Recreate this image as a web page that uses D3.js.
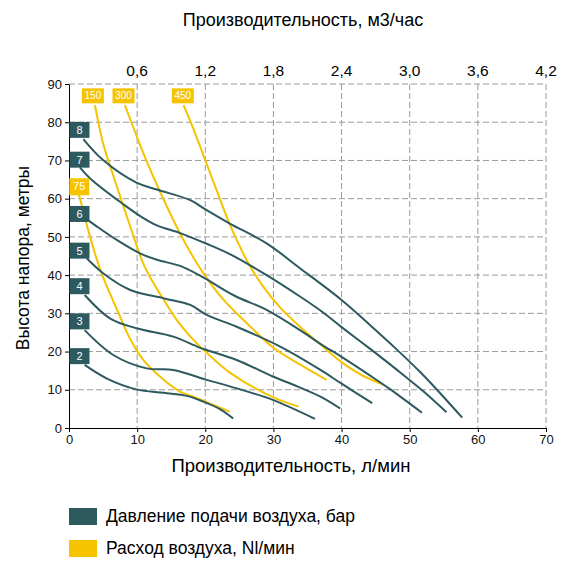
<!DOCTYPE html>
<html><head><meta charset="utf-8">
<script src="https://cdn.jsdelivr.net/npm/d3@7"></script>
<style>
html,body{margin:0;padding:0;background:#fff;}
svg{display:block;font-family:"Liberation Sans",Arial,sans-serif;}
</style></head>
<body>
<svg id="chart" width="584" height="572"></svg>
<script>
// ---- data ----
const xTicks = [0,10,20,30,40,50,60,70];
const yTicks = [0,10,20,30,40,50,60,70,80,90];
const topTickValues = [0.6,1.2,1.8,2.4,3.0,3.6,4.2];
const topTickLabels = ["0,6","1,2","1,8","2,4","3,0","3,6","4,2"];

const pressureNames = ["2","3","4","5","6","7","8"];
const pressureLabelY = [18.8,27.9,37.1,46.4,56.0,70.2,78.0];
const p2 = [[2.3,16.5],[5.5,13.0],[9.9,10.1],[13.9,9.2],[17.3,8.4],[19.7,6.9],[22.2,4.9],[24.1,2.5]];
const p3 = [[2.3,25.6],[6.5,19.1],[11.4,15.6],[15.3,15.2],[20.2,12.6],[23.6,10.9],[30,7.3],[36.1,2.4]];
const p4 = [[2.3,34.8],[6,28.7],[9.9,26.1],[15.3,23.9],[18.8,21.3],[20.2,20.4],[24.6,17.8],[30,13.4],[33.5,10.9],[36.9,8.2],[39.8,5.1]];
const p5 = [[2.6,44.4],[5,40.5],[9,36.1],[14,33.9],[17.8,32.2],[20.2,29.6],[24.6,26.5],[31,21.3],[36.9,15.2],[40,11.6],[44.5,6.5]];
const p6 = [[2.1,55.3],[4.1,52.7],[7,49.2],[10.4,45.7],[12.9,44.0],[16.3,42.4],[19.5,39.6],[24.3,34.6],[29,30.9],[33.9,25.6],[37,21.9],[40,18.6],[44.2,13.7],[47,10.3],[51.8,4.0]];
const p7 = [[1.6,68.2],[3.1,65.3],[8.0,58.5],[10.4,55.5],[12.9,53],[16.3,51],[20.2,48.2],[23.6,45.5],[29,40],[33.9,34.4],[37,30.6],[40,26.4],[44.2,20.7],[48,15.4],[52,9.6],[55.4,4.1]];
const p8 = [[2.1,75.6],[5.0,70.1],[9.9,64.2],[12.9,62.4],[17.8,59.6],[20.2,57.0],[23.6,53.5],[29.0,48.3],[33.9,41.8],[40,33.5],[44.2,26.9],[48,20.7],[51.5,14.7],[54,10],[57.7,2.7]];
const pressureSeries = [p2,p3,p4,p5,p6,p7,p8];

const airNames = ["75","150","300","450"];
const airLabelX = [1.5,3.5,8.0,16.7];
const airLabelY = [63.1,86.9,86.9,86.9];
const a75 = [[1.4,61.5],[2.2,56],[3.1,50],[4.1,44],[5,39.5],[6,35.2],[7.5,29.1],[9,23.2],[10.9,17.8],[13.9,12.6],[16.3,9.5],[18.8,7.8],[21,6.2],[23.6,4.3]];
const a150 = [[3.8,84.5],[5.0,74.5],[6.5,66],[8.0,58],[9.5,50],[10.9,43],[12.2,38.5],[13.4,35],[15.8,28.3],[18.3,23.0],[20.2,19.7],[23.6,14.5],[30,8],[33.7,5.6]];
const a300 = [[8.2,84.5],[9.9,76.5],[11.7,68.5],[13.7,60.5],[16.4,50.5],[18.3,44.5],[19.9,40],[22.7,33.5],[26.1,27.4],[30,21],[34,16.5],[37.8,12.6]];
const a450 = [[16.8,84.5],[18.1,79],[19.8,71],[21.6,62.5],[23.2,55],[24.8,48.5],[26.5,42.5],[28.5,37],[31,31.5],[33.9,26.5],[37,21.7],[39.8,17.5],[43,13.8],[46.2,11.3]];
const airSeries = [a75,a150,a300,a450];

const legendLabels = ["Давление подачи воздуха, бар","Расход воздуха, Nl/мин"];

// ---- styles ----
const DARK = "#2d5a5f", YEL = "#f5c300";
const svg = d3.select("#chart");
const L = 69, R = 546, T = 84, B = 428;
const x = d3.scaleLinear().domain([0,70]).range([L,R]);
const xTop = d3.scaleLinear().domain([0,4.2]).range([L,R]);
const y = d3.scaleLinear().domain([0,90]).range([B,T]);

// grid
const g = svg.append("g");
g.selectAll("line.vx").data(xTicks.filter(d=>d>0)).join("line")
  .attr("x1",d=>x(d)).attr("x2",d=>x(d)).attr("y1",T).attr("y2",B)
  .attr("stroke","#9a9a9a").attr("stroke-dasharray","6,3").attr("stroke-width",1);
g.selectAll("line.hy").data(yTicks.filter(d=>d>0)).join("line")
  .attr("x1",L).attr("x2",R).attr("y1",d=>y(d)).attr("y2",d=>y(d))
  .attr("stroke","#9a9a9a").attr("stroke-dasharray","6,3").attr("stroke-width",1);

// axes
const xa = svg.append("g").attr("transform",`translate(0,${B})`)
  .call(d3.axisBottom(x).tickValues(xTicks).tickSize(4).tickPadding(3).tickSizeOuter(0));
const ya = svg.append("g").attr("transform",`translate(${L},0)`)
  .call(d3.axisLeft(y).tickValues(yTicks).tickSize(4).tickPadding(3).tickSizeOuter(0));
[xa,ya].forEach(a=>{
  a.selectAll("text").attr("font-size",13).attr("fill","#111").attr("font-family","Liberation Sans, Arial, sans-serif");
  a.selectAll("path,line").attr("stroke","#000");
});

// top axis labels
svg.append("g").selectAll("text").data(topTickValues).join("text")
  .attr("x",d=>xTop(d)).attr("y",76).attr("text-anchor","middle")
  .attr("font-size",15.5).attr("fill","#000").text((d,i)=>topTickLabels[i]);

// curves
const line = d3.line().x(d=>x(d[0])).y(d=>y(d[1])).curve(d3.curveCatmullRom.alpha(0.5));
svg.append("g").selectAll("path").data(airSeries).join("path")
  .attr("d",line).attr("fill","none").attr("stroke",YEL).attr("stroke-width",2);
svg.append("g").selectAll("path").data(pressureSeries).join("path")
  .attr("d",line).attr("fill","none").attr("stroke",DARK).attr("stroke-width",2);

// pressure labels
const pl = svg.append("g").selectAll("g").data(pressureNames).join("g")
  .attr("transform",(d,i)=>`translate(${x(0)},${y(pressureLabelY[i])})`);
pl.append("rect").attr("x",0.5).attr("y",-8).attr("width",20).attr("height",16).attr("fill",DARK);
pl.append("text").attr("x",10.5).attr("y",4).attr("text-anchor","middle")
  .attr("font-size",11).attr("fill","#fff").text(d=>d);

// air labels
const al = svg.append("g").selectAll("g").data(airNames).join("g")
  .attr("transform",(d,i)=>`translate(${x(airLabelX[i])},${y(airLabelY[i])})`);
al.append("rect").attr("x",(d,i)=>i===0?-10:-11).attr("y",(d,i)=>i===0?-8.5:-7.5)
  .attr("width",(d,i)=>i===0?20:22).attr("height",(d,i)=>i===0?17:15).attr("fill",YEL);
al.append("text").attr("x",0).attr("y",3.5).attr("text-anchor","middle")
  .attr("font-size",(d,i)=>i===0?11:10).attr("fill","#fff").text(d=>d);

// titles
svg.append("text").attr("x",303).attr("y",26).attr("text-anchor","middle")
  .attr("font-size",18).attr("fill","#000").text("Производительность, м3/час");
svg.append("text").attr("x",291).attr("y",472).attr("text-anchor","middle")
  .attr("font-size",18.5).attr("fill","#000").text("Производительность, л/мин");
svg.append("text").attr("transform","translate(29,258) rotate(-90)").attr("text-anchor","middle")
  .attr("font-size",17.5).attr("fill","#000").text("Высота напора, метры");

// legend
const lg = svg.append("g").selectAll("g").data(legendLabels).join("g")
  .attr("transform",(d,i)=>`translate(69,${508+i*32})`);
lg.append("rect").attr("width",28).attr("height",17).attr("fill",(d,i)=>i===0?DARK:YEL);
lg.append("text").attr("x",37).attr("y",14).attr("font-size",17.5).attr("fill","#000").text(d=>d);
</script>
</body></html>
